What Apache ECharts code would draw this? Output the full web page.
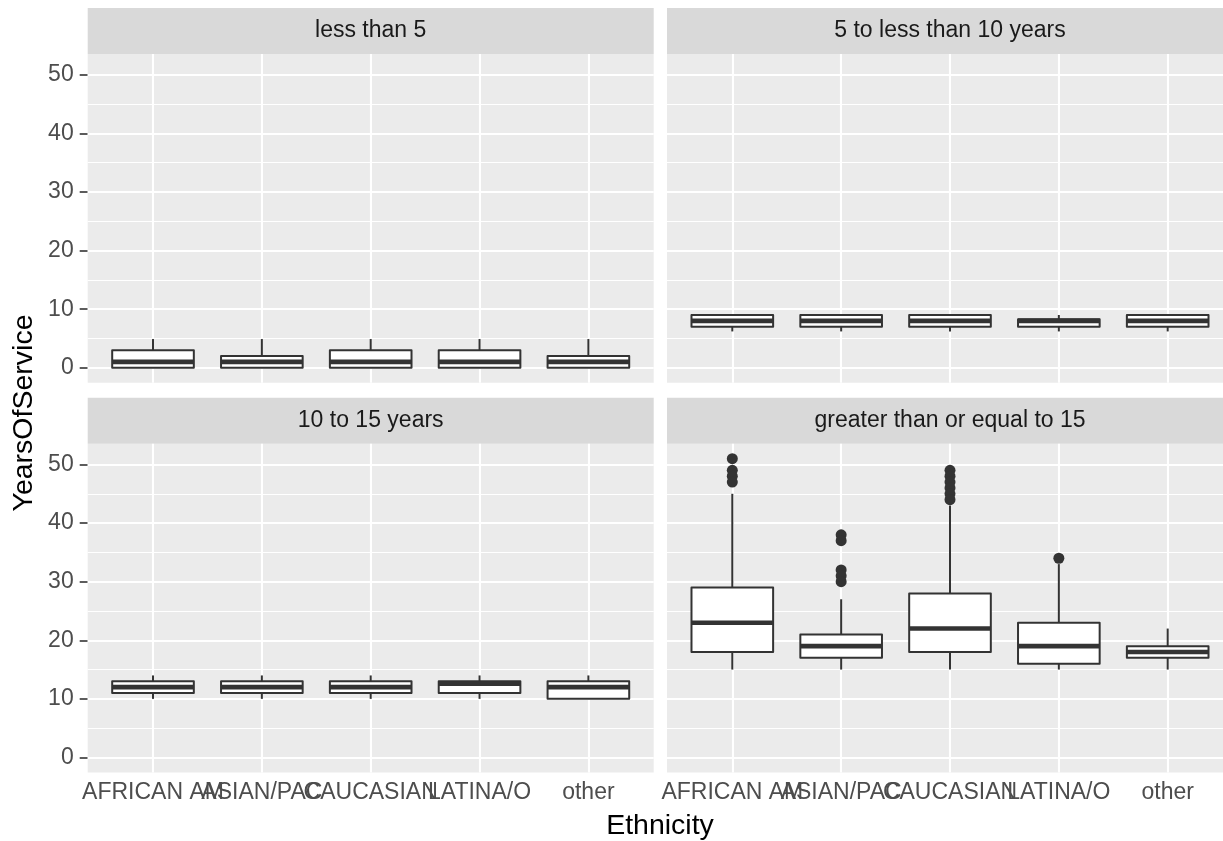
<!DOCTYPE html>
<html><head><meta charset="utf-8">
<script src="https://cdn.jsdelivr.net/npm/echarts@6/dist/echarts.min.js"></script>
<style>html,body{margin:0;padding:0;background:#fff}#c{width:1223px;height:841px}</style>
</head><body><div id="c"></div>
<script>
// ---- data ----
const categories = ['AFRICAN AM', 'ASIAN/PAC', 'CAUCASIAN', 'LATINA/O', 'other'];
const panelTitles = ['less than 5', '5 to less than 10 years', '10 to 15 years', 'greater than or equal to 15'];
const yTicks = [0, 10, 20, 30, 40, 50];
const yMinorTicks = [5, 15, 25, 35, 45];
// each row: [min whisker, Q1, median, Q3, max whisker], one row per category
const boxLessThan5 = [[0, 0, 1, 3, 4.9], [0, 0, 1, 2, 4.9], [0, 0, 1, 3, 4.9], [0, 0, 1, 3, 4.9], [0, 0, 1, 2, 4.9]];
const box5to10 = [[6.2, 7, 8, 9, 9], [6.2, 7, 8, 9, 9], [6.2, 7, 8, 9, 9], [6.2, 7, 8, 8.3, 9], [6.2, 7, 8, 9, 9]];
const box10to15 = [[10, 11, 12, 13, 14], [10, 11, 12, 13, 14], [10, 11, 12, 13, 14], [10, 11, 12.6, 13, 14], [10, 10, 12, 13, 14]];
const box15plus = [[15, 18, 23, 29, 45], [15, 17, 19, 21, 27], [15, 18, 22, 28, 43], [15, 16, 19, 23, 33], [15, 17, 18, 19, 22]];
const outlierCats15plus = ['AFRICAN AM', 'AFRICAN AM', 'AFRICAN AM', 'AFRICAN AM',
  'ASIAN/PAC', 'ASIAN/PAC', 'ASIAN/PAC', 'ASIAN/PAC', 'ASIAN/PAC',
  'CAUCASIAN', 'CAUCASIAN', 'CAUCASIAN', 'CAUCASIAN', 'CAUCASIAN', 'CAUCASIAN',
  'LATINA/O'];
const outlierVals15plus = [51, 49, 48, 47,
  38, 37, 32, 31, 30,
  49, 48, 47, 46, 45, 44,
  34];
const panelBoxes = [boxLessThan5, box5to10, box10to15, box15plus];
const panelOutliers = [[], [], [], outlierCats15plus.map((c, i) => [c, outlierVals15plus[i]])];

// ---- layout ----
const FONT = '"Liberation Sans", Arial, Helvetica, sans-serif';
const W = 566, H = 328.7, STRIP = 46;
const lefts = [87.7, 667, 87.7, 667];
const tops = [54, 54, 443.7, 443.7];
const band = W / 5.2;
const yMin = -2.55, yMax = 53.55;
const tickLine = { color: '#333333', width: 1.6 };

const grids = [], xAxes = [], yAxes = [], series = [], graphics = [];

function renderBox(params, api) {
  const x = api.value(0);
  const pMin = api.coord([x, api.value(1)]);
  const pQ1 = api.coord([x, api.value(2)]);
  const pMed = api.coord([x, api.value(3)]);
  const pQ3 = api.coord([x, api.value(4)]);
  const pMax = api.coord([x, api.value(5)]);
  const bw = api.size([1, 0])[0] * 0.75;
  const cx = pMed[0];
  const ls = { stroke: '#333333', lineWidth: 2 };
  return {
    type: 'group', children: [
      { type: 'line', shape: { x1: cx, y1: pMax[1], x2: cx, y2: pQ3[1] }, style: ls },
      { type: 'line', shape: { x1: cx, y1: pQ1[1], x2: cx, y2: pMin[1] }, style: ls },
      { type: 'rect', shape: { x: cx - bw / 2, y: pQ3[1], width: bw, height: pQ1[1] - pQ3[1] },
        style: { fill: '#ffffff', stroke: '#333333', lineWidth: 2, lineJoin: 'round' } },
      { type: 'line', shape: { x1: cx - bw / 2, y1: pMed[1], x2: cx + bw / 2, y2: pMed[1] },
        style: { stroke: '#333333', lineWidth: 4.6 } }
    ]
  };
}

for (let i = 0; i < 4; i++) {
  const showY = (i % 2 === 0), showX = (i >= 2);
  const bg = 2 * i, dg = 2 * i + 1;
  grids.push({ left: lefts[i], top: tops[i], width: W, height: H, show: true,
    backgroundColor: '#EBEBEB', borderWidth: 0 });
  grids.push({ left: lefts[i] + 0.1 * band, top: tops[i], width: 5 * band, height: H });

  xAxes.push({ type: 'value', gridIndex: bg, min: 0, max: 1, show: false });
  xAxes.push({
    type: 'category', gridIndex: dg, data: categories, boundaryGap: true,
    axisLine: { show: false }, splitLine: { show: false },
    axisTick: { show: showX, alignWithLabel: true, length: 8, lineStyle: tickLine },
    axisLabel: { show: showX, interval: 0, hideOverlap: false, color: '#4D4D4D',
      fontSize: 23, fontFamily: FONT, margin: 9 }
  });

  yAxes.push({
    type: 'value', gridIndex: bg, min: yMin, max: yMax,
    axisLine: { show: false }, splitLine: { show: false }, minorSplitLine: { show: false },
    axisTick: { show: showY, length: 8, lineStyle: tickLine, customValues: yTicks },
    axisLabel: { show: showY, customValues: yTicks, color: '#4D4D4D', fontSize: 23,
      fontFamily: FONT, margin: 14 }
  });
  yAxes.push({ type: 'value', gridIndex: dg, min: yMin, max: yMax, show: false });

  // horizontal grid lines (full panel width)
  series.push({
    type: 'scatter', xAxisIndex: bg, yAxisIndex: bg, z: 1, silent: true,
    data: [[0.5, -100]], symbolSize: 0, itemStyle: { opacity: 0 },
    markLine: {
      z: 1, silent: true, animation: false, symbol: ['none', 'none'], label: { show: false },
      emphasis: { disabled: true },
      data: yMinorTicks.map(v => ({ yAxis: v, lineStyle: { color: '#ffffff', width: 1.1, type: 'solid' } }))
        .concat(yTicks.map(v => ({ yAxis: v, lineStyle: { color: '#ffffff', width: 2.1, type: 'solid' } })))
    }
  });
  // vertical grid lines at category centres
  series.push({
    type: 'scatter', xAxisIndex: dg, yAxisIndex: dg, z: 1, silent: true,
    data: [[categories[0], -100]], symbolSize: 0, itemStyle: { opacity: 0 },
    markLine: {
      z: 1, silent: true, animation: false, symbol: ['none', 'none'], label: { show: false },
      emphasis: { disabled: true },
      data: categories.map((c, j) => ({ xAxis: j, lineStyle: { color: '#ffffff', width: 2.1, type: 'solid' } }))
    }
  });
  // boxes
  series.push({
    type: 'custom', xAxisIndex: dg, yAxisIndex: dg, z: 3, silent: true,
    data: panelBoxes[i].map((b, j) => [categories[j]].concat(b)),
    encode: { x: 0, y: [1, 2, 3, 4, 5] },
    renderItem: renderBox
  });
  // outliers
  if (panelOutliers[i].length) {
    series.push({
      type: 'scatter', xAxisIndex: dg, yAxisIndex: dg, z: 4, silent: true,
      data: panelOutliers[i], symbol: 'circle', symbolSize: 11,
      itemStyle: { color: '#333333', opacity: 1 }
    });
  }

  // strip
  graphics.push({ type: 'rect', z: 0, shape: { x: lefts[i], y: tops[i] - STRIP, width: W, height: STRIP },
    style: { fill: '#D9D9D9' } });
  graphics.push({ type: 'text', z: 1, x: lefts[i] + W / 2, y: tops[i] - STRIP / 2,
    style: { text: panelTitles[i], fill: '#1A1A1A', fontSize: 23, fontFamily: FONT,
      align: 'center', verticalAlign: 'middle' } });
}

graphics.push({ type: 'text', x: 660, y: 826,
  style: { text: 'Ethnicity', fill: '#000000', fontSize: 28.5, fontFamily: FONT, align: 'center', verticalAlign: 'middle' } });
graphics.push({ type: 'text', x: 24, y: 413, rotation: Math.PI / 2,
  style: { text: 'YearsOfService', fill: '#000000', fontSize: 28.5, fontFamily: FONT, align: 'center', verticalAlign: 'middle' } });

const chart = echarts.init(document.getElementById('c'), null, { renderer: 'canvas' });
chart.setOption({
  animation: false,
  backgroundColor: '#ffffff',
  grid: grids, xAxis: xAxes, yAxis: yAxes, series: series, graphic: graphics
});
</script></body></html>
